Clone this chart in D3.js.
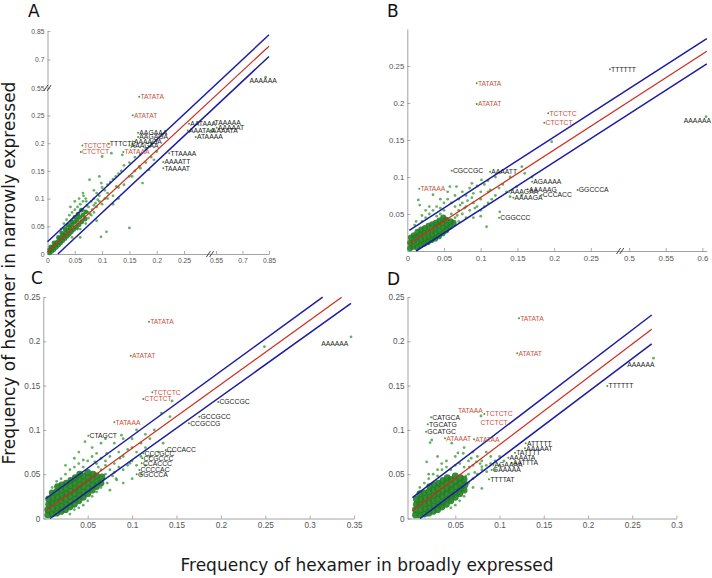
<!DOCTYPE html>
<html><head><meta charset="utf-8">
<script src="https://cdn.jsdelivr.net/npm/d3@7"></script>
<style>body{margin:0;background:#fff}svg{display:block}</style>
</head><body><svg id="c" width="712" height="578"></svg>
<script>
// ---------- DATA ----------
const xTicksA = [0,0.05,0.1,0.15,0.2,0.25,0.55,0.7,0.85];
const xTickLabelsA = ['0','0.05','0.1','0.15','0.2','0.25','0.55','0.7','0.85'];
const yTicksA = [0,0.05,0.1,0.15,0.2,0.25,0.55,0.7,0.85];
const yTickLabelsA = ['0','0.05','0.1','0.15','0.2','0.25','0.55','0.7','0.85'];
const xTicksB = [0,0.05,0.1,0.15,0.2,0.25,0.5,0.55,0.6];
const xTickLabelsB = ['0','0.05','0.1','0.15','0.2','0.25','0.5','0.55','0.6'];
const yTicksB = [0.05,0.1,0.15,0.2,0.25];
const yTickLabelsB = ['0.05','0.1','0.15','0.2','0.25'];
const xTicksC = [0.05,0.1,0.15,0.2,0.25,0.3,0.35];
const xTickLabelsC = ['0.05','0.1','0.15','0.2','0.25','0.3','0.35'];
const yTicksC = [0,0.05,0.1,0.15,0.2,0.25];
const yTickLabelsC = ['0','0.05','0.1','0.15','0.2','0.25'];
const xTicksD = [0.05,0.1,0.15,0.2,0.25,0.3];
const xTickLabelsD = ['0.05','0.1','0.15','0.2','0.25','0.3'];
const yTicksD = [0,0.05,0.1,0.15,0.2,0.25];
const yTickLabelsD = ['0','0.05','0.1','0.15','0.2','0.25'];

// fit / bound lines: [x0,y0,x1,y1,kind]
const linesA = [[0,0.022,0.85,0.83,'b'],[0.019,0,0.85,0.716,'b'],[0,0.004,0.85,0.77,'r']];
const linesB = [[0.0027,0.028,0.606,0.287,'b'],[0.012,0,0.606,0.253,'b'],[0.0027,0.010,0.606,0.270,'r']];
const linesC = [[0.0027,0.0223,0.3146,0.2498,'b'],[0.0075,0,0.3465,0.2427,'b'],[0.0027,0.0089,0.336,0.2498,'r']];
const linesD = [[0.0015,0.0235,0.272,0.2297,'b'],[0.0102,0,0.272,0.197,'b'],[0.0015,0.0088,0.272,0.2135,'r']];

// dense core of hexamers
const coreA = [[0.004,0.002],[0.004,0.008],[0.008,0.005],[0.009,0.012],[0.012,0.008],[0.013,0.016],[0.016,0.012],[0.017,0.021],[0.02,0.016],[0.021,0.025],[0.024,0.02],[0.025,0.03],[0.028,0.024],[0.029,0.034],[0.032,0.028],[0.033,0.038],[0.036,0.032],[0.037,0.043],[0.04,0.036],[0.041,0.047],[0.044,0.04],[0.045,0.052],[0.048,0.044],[0.05,0.057],[0.053,0.048],[0.054,0.061],[0.058,0.053],[0.059,0.066],[0.063,0.058],[0.065,0.07],[0.069,0.063],[0.07,0.076],[0.02,0.03],[0.026,0.038],[0.032,0.045],[0.038,0.052],[0.044,0.058],[0.05,0.066],[0.056,0.072],[0.062,0.079],[0.012,0.02],[0.006,0.013]];
const scatterA = [[0.03,0.055],[0.035,0.062],[0.04,0.07],[0.045,0.075],[0.05,0.08],[0.055,0.085],[0.06,0.09],[0.065,0.095],[0.07,0.1],[0.042,0.085],[0.05,0.095],[0.058,0.1],[0.066,0.105],[0.075,0.085],[0.08,0.095],[0.085,0.1],[0.09,0.11],[0.095,0.105],[0.1,0.12],[0.105,0.115],[0.11,0.125],[0.115,0.13],[0.12,0.135],[0.125,0.14],[0.13,0.145],[0.135,0.15],[0.14,0.16],[0.15,0.165],[0.16,0.175],[0.17,0.18],[0.18,0.19],[0.19,0.2],[0.2,0.205],[0.21,0.215],[0.06,0.045],[0.07,0.055],[0.075,0.065],[0.08,0.07],[0.085,0.075],[0.09,0.085],[0.1,0.09],[0.11,0.1],[0.12,0.105],[0.13,0.12],[0.14,0.125],[0.15,0.14],[0.16,0.15],[0.17,0.155],[0.18,0.165],[0.19,0.175],[0.2,0.185],[0.15,0.047],[0.108,0.04],[0.098,0.031],[0.077,0.134],[0.0985,0.128],[0.071,0.095],[0.126,0.122],[0.155,0.14],[0.168,0.158],[0.186,0.152],[0.174,0.128],[0.195,0.17],[0.1,0.176],[0.117,0.182],[0.137,0.179],[0.09,0.06],[0.12,0.09],[0.085,0.115],[0.095,0.14],[0.065,0.11],[0.055,0.045],[0.045,0.03],[0.13,0.1],[0.06,0.03],[0.831,0.607],[0.075,0.075],[0.085,0.088],[0.095,0.095],[0.105,0.1],[0.11,0.11],[0.025,0.045],[0.035,0.05],[0.045,0.062],[0.055,0.068],[0.065,0.08],[0.072,0.088],[0.078,0.072],[0.082,0.08],[0.088,0.092],[0.092,0.098]];

const coreB = [[0.004,0.004],[0.004,0.011],[0.005,0.018],[0.008,0.006],[0.009,0.013],[0.009,0.021],[0.013,0.005],[0.014,0.012],[0.013,0.019],[0.014,0.026],[0.018,0.008],[0.019,0.015],[0.018,0.022],[0.019,0.029],[0.023,0.01],[0.024,0.017],[0.023,0.024],[0.024,0.031],[0.028,0.012],[0.029,0.019],[0.028,0.026],[0.029,0.034],[0.033,0.015],[0.034,0.021],[0.033,0.028],[0.034,0.036],[0.038,0.017],[0.039,0.024],[0.038,0.031],[0.039,0.038],[0.043,0.02],[0.044,0.027],[0.043,0.034],[0.044,0.041],[0.048,0.024],[0.049,0.031],[0.048,0.038],[0.049,0.045],[0.053,0.028],[0.054,0.035],[0.053,0.042],[0.058,0.033],[0.059,0.04],[0.063,0.038]];
const scatterB = [[0.015,0.069],[0.017,0.062],[0.035,0.076],[0.058,0.087],[0.067,0.087],[0.088,0.0915],[0.101,0.096],[0.113,0.0824],[0.126,0.053],[0.108,0.0328],[0.14,0.0734],[0.149,0.0869],[0.156,0.0757],[0.1967,0.1477],[0.156,0.114],[0.01,0.035],[0.02,0.04],[0.025,0.045],[0.03,0.05],[0.035,0.055],[0.04,0.06],[0.045,0.058],[0.05,0.065],[0.055,0.07],[0.06,0.065],[0.065,0.075],[0.07,0.07],[0.075,0.08],[0.08,0.075],[0.085,0.085],[0.09,0.078],[0.095,0.088],[0.1,0.08],[0.105,0.09],[0.11,0.095],[0.12,0.1],[0.13,0.09],[0.06,0.05],[0.065,0.045],[0.07,0.055],[0.075,0.05],[0.08,0.06],[0.085,0.055],[0.09,0.065],[0.095,0.06],[0.1,0.07],[0.105,0.06],[0.11,0.065],[0.115,0.07],[0.12,0.075],[0.07,0.04],[0.08,0.045],[0.09,0.045],[0.1,0.055],[0.05,0.055],[0.045,0.05],[0.04,0.047],[0.02,0.048],[0.03,0.06],[0.012,0.04],[0.025,0.055],[0.065,0.06],[0.075,0.065],[0.1,0.047],[0.11,0.08],[0.125,0.085],[0.135,0.08],[0.14,0.1],[0.16,0.105],[0.17,0.1],[0.045,0.07],[0.055,0.08],[0.605,0.1815],[0.068,0.048],[0.072,0.062],[0.078,0.058],[0.082,0.068],[0.088,0.072],[0.092,0.058]];

const coreC = [[0.005,0.004],[0.005,0.01],[0.006,0.016],[0.006,0.022],[0.01,0.005],[0.011,0.011],[0.01,0.017],[0.011,0.023],[0.01,0.029],[0.015,0.006],[0.016,0.012],[0.015,0.018],[0.016,0.024],[0.015,0.03],[0.016,0.036],[0.02,0.008],[0.021,0.014],[0.02,0.02],[0.021,0.026],[0.02,0.032],[0.021,0.038],[0.025,0.01],[0.026,0.016],[0.025,0.022],[0.026,0.028],[0.025,0.034],[0.026,0.04],[0.03,0.013],[0.031,0.019],[0.03,0.025],[0.031,0.031],[0.03,0.037],[0.031,0.043],[0.035,0.016],[0.036,0.022],[0.035,0.028],[0.036,0.034],[0.035,0.04],[0.036,0.046],[0.04,0.02],[0.041,0.026],[0.04,0.032],[0.041,0.038],[0.04,0.044],[0.041,0.05],[0.045,0.024],[0.046,0.03],[0.045,0.036],[0.046,0.042],[0.045,0.048],[0.05,0.028],[0.051,0.034],[0.05,0.04],[0.051,0.046],[0.05,0.052],[0.055,0.032],[0.056,0.038],[0.055,0.044],[0.056,0.05],[0.06,0.036],[0.061,0.042],[0.06,0.048],[0.065,0.04],[0.066,0.047]];
const scatterC = [[0.047,0.0867],[0.0714,0.0736],[0.045,0.066],[0.0864,0.068],[0.0976,0.0623],[0.0827,0.0435],[0.075,0.032],[0.06,0.0736],[0.249,0.1939],[0.145,0.1326],[0.1427,0.1149],[0.133,0.119],[0.105,0.0999],[0.088,0.094],[0.3465,0.205],[0.02,0.045],[0.025,0.05],[0.03,0.055],[0.035,0.058],[0.04,0.062],[0.045,0.058],[0.05,0.065],[0.055,0.07],[0.06,0.062],[0.065,0.068],[0.07,0.065],[0.075,0.07],[0.08,0.062],[0.085,0.075],[0.09,0.07],[0.095,0.078],[0.1,0.08],[0.105,0.075],[0.11,0.085],[0.115,0.08],[0.12,0.09],[0.125,0.1],[0.07,0.05],[0.075,0.055],[0.08,0.052],[0.085,0.058],[0.09,0.055],[0.095,0.06],[0.1,0.065],[0.105,0.06],[0.11,0.07],[0.065,0.055],[0.07,0.06],[0.06,0.03],[0.065,0.035],[0.055,0.025],[0.05,0.02],[0.03,0.005],[0.035,0.01],[0.04,0.012],[0.045,0.015],[0.015,0.042],[0.01,0.035],[0.025,0.06],[0.035,0.068],[0.04,0.075],[0.055,0.08],[0.065,0.085],[0.07,0.09],[0.08,0.085],[0.09,0.09],[0.1,0.09],[0.115,0.095],[0.12,0.07],[0.13,0.075],[0.135,0.085],[0.11,0.05],[0.1,0.045],[0.09,0.04],[0.115,0.06],[0.068,0.045],[0.072,0.04],[0.078,0.048],[0.082,0.045],[0.062,0.058],[0.058,0.064]];

const coreD = [[0.005,0.004],[0.005,0.01],[0.006,0.016],[0.006,0.022],[0.01,0.004],[0.011,0.01],[0.01,0.016],[0.011,0.022],[0.01,0.028],[0.015,0.005],[0.016,0.011],[0.015,0.017],[0.016,0.023],[0.015,0.029],[0.02,0.006],[0.021,0.012],[0.02,0.018],[0.021,0.024],[0.02,0.03],[0.021,0.036],[0.025,0.008],[0.026,0.014],[0.025,0.02],[0.026,0.026],[0.025,0.032],[0.026,0.038],[0.03,0.01],[0.031,0.016],[0.03,0.022],[0.031,0.028],[0.03,0.034],[0.031,0.04],[0.035,0.013],[0.036,0.019],[0.035,0.025],[0.036,0.031],[0.035,0.037],[0.036,0.043],[0.04,0.016],[0.041,0.022],[0.04,0.028],[0.041,0.034],[0.04,0.04],[0.041,0.046],[0.045,0.02],[0.046,0.026],[0.045,0.032],[0.046,0.038],[0.045,0.044],[0.05,0.024],[0.051,0.03],[0.05,0.036],[0.051,0.042],[0.05,0.048],[0.055,0.028],[0.056,0.034],[0.055,0.04],[0.056,0.046],[0.06,0.032],[0.061,0.038],[0.06,0.044]];
const scatterD = [[0.0234,0.0886],[0.0215,0.0856],[0.046,0.085],[0.0177,0.064],[0.0347,0.062],[0.059,0.0736],[0.08,0.0585],[0.0855,0.0528],[0.074,0.064],[0.053,0.074],[0.08,0.034],[0.079,0.1157],[0.274,0.181],[0.01,0.035],[0.015,0.04],[0.02,0.045],[0.025,0.05],[0.03,0.048],[0.035,0.055],[0.04,0.058],[0.045,0.055],[0.05,0.06],[0.055,0.062],[0.06,0.058],[0.065,0.065],[0.07,0.06],[0.075,0.07],[0.08,0.065],[0.085,0.075],[0.09,0.07],[0.065,0.05],[0.07,0.045],[0.075,0.05],[0.08,0.055],[0.085,0.06],[0.09,0.062],[0.095,0.065],[0.1,0.07],[0.065,0.04],[0.07,0.035],[0.06,0.025],[0.055,0.02],[0.05,0.015],[0.045,0.012],[0.03,0.055],[0.02,0.05],[0.04,0.065],[0.05,0.07],[0.03,0.07],[0.06,0.08],[0.07,0.075],[0.1,0.06],[0.095,0.055],[0.105,0.065],[0.066,0.058],[0.072,0.052],[0.078,0.062],[0.062,0.048],[0.068,0.068]];

// labelled hexamers: [name, x, y, colour key, marker?]
const labelsA = [['TATATA',0.168,0.455,'r'],['ATATAT',0.156,0.252,'r'],['TCTCTC',0.064,0.196,'r'],['CTCTCT',0.061,0.184,'r'],['TTTCTC',0.112,0.199,'k'],['AAGAAA',0.166,0.219,'k'],['AAGAGA',0.166,0.211,'k'],['AAAAGA',0.156,0.203,'k'],['AAAGAA',0.15,0.196,'k'],['TATAAA',0.139,0.184,'r'],['AATAAA',0.297,0.235,'k'],['TAAAAA',0.525,0.237,'k'],['AAAAAT',0.554,0.228,'k'],['AAATAA',0.285,0.223,'k'],['AAAATA',0.50,0.223,'k'],['ATAAAA',0.36,0.211,'k'],['TTAAAA',0.223,0.182,'k'],['AAAATT',0.212,0.166,'k'],['TAAAAT',0.212,0.155,'k'],['AAAAAA',0.733,0.5875,'k',0]];
const labelsB = [['TTTTTT',0.276,0.2455,'k'],['TATATA',0.0945,0.2266,'r'],['ATATAT',0.0945,0.1986,'r'],['TCTCTC',0.192,0.186,'r'],['CTCTCT',0.1866,0.1734,'r'],['AAAAAA',0.573,0.176,'k',0],['CGCCGC',0.0605,0.1085,'k'],['AAAATT',0.1127,0.107,'k'],['TATAAA',0.0163,0.0842,'r'],['AGAAAA',0.170,0.0937,'k'],['AAAAAG',0.164,0.0834,'k'],['AAAGAA',0.1386,0.080,'k'],['AAAAGA',0.1444,0.072,'k'],['CCCACC',0.183,0.0757,'k'],['GGCCCA',0.232,0.0824,'k'],['CGGCCC',0.125,0.045,'k']];
const labelsC = [['TATATA',0.119,0.222,'r'],['ATATAT',0.0984,0.1838,'r'],['TCTCTC',0.1228,0.1424,'r'],['CTCTCT',0.1126,0.1349,'r'],['TATAAA',0.080,0.1086,'r'],['CTAGCT',0.0507,0.0935,'k'],['AAAAAA',0.3116,0.1973,'k',0],['CGCCGC',0.197,0.1315,'k'],['GCCGCC',0.1757,0.1149,'k'],['CCGCCG',0.164,0.1074,'k'],['CCCACC',0.1378,0.0773,'k'],['CCCGCC',0.1126,0.0736,'k'],['CCGCCC',0.1115,0.068,'k'],['CCACCC',0.1108,0.0623,'k'],['CCCCAC',0.1081,0.0547,'k'],['GGCCCA',0.1052,0.0499,'k']];
const labelsD = [['TATATA',0.122,0.226,'r'],['ATATAT',0.120,0.1865,'r'],['AAAAAA',0.243,0.174,'k',0],['TTTTTT',0.2218,0.1495,'k'],['TATAAA',0.0516,0.1213,'r',0],['TCTCTC',0.0828,0.118,'r'],['CTCTCT',0.0772,0.1081,'r',0],['CATGCA',0.0226,0.1142,'k'],['TGCATG',0.0189,0.1063,'k'],['GCATGC',0.017,0.098,'k'],['ATAAAT',0.0384,0.0905,'r'],['ATATAA',0.0712,0.0894,'r'],['ATTTTT',0.1296,0.0849,'k'],['AAAAAT',0.1288,0.0792,'k'],['TATTTT',0.1175,0.0743,'k'],['AAAATA',0.11,0.0686,'k'],['AATTTA',0.1138,0.063,'k'],['AGAAAA',0.093,0.0604,'k'],['GAAAAA',0.0911,0.0547,'k'],['TTTTAT',0.0881,0.0442,'k']];

// ---------- LAYOUT ----------
const panels = [
 {letter:'A', lp:[28,17], xd:[0,0.25,0.55,0.85], xr:[47.5,184,216,269], yd:[0,0.25,0.55,0.85], yr:[254,115.5,88,31],
  xt:xTicksA, xl:xTickLabelsA, yt:yTicksA, yl:yTickLabelsA, tf:6.8, cr:2.4, lines:linesA, core:coreA, pts:scatterA, labels:labelsA, bx:0.494, by:0.55},
 {letter:'B', lp:[387,17], xd:[0,0.29,0.49,0.606], xr:[407.3,620.2,621.7,706.8], yd:[0,0.3], yr:[251,29],
  xt:xTicksB, xl:xTickLabelsB, yt:yTicksB, yl:yTickLabelsB, tf:7.8, cr:3.1, lines:linesB, core:coreB, pts:scatterB, labels:labelsB, bx:0.29},
 {letter:'C', lp:[31,284], xd:[0,0.35], xr:[43.3,354.1], yd:[0,0.25], yr:[518.5,297],
  xt:xTicksC, xl:xTickLabelsC, yt:yTicksC, yl:yTickLabelsC, tf:8.2, cr:3.4, lines:linesC, core:coreC, pts:scatterC, labels:labelsC},
 {letter:'D', lp:[387,285], xd:[-0.004,0.3], xr:[407.5,676.5], yd:[0,0.25], yr:[518.5,297],
  xt:xTicksD, xl:xTickLabelsD, yt:yTicksD, yl:yTickLabelsD, tf:8.2, cr:3.4, lines:linesD, core:coreD, pts:scatterD, labels:labelsD}
];

const svg = d3.select('#c');
const colors = {b:'#1c1ca6', r:'#d42a1c', k:'#1a1a1a', lr:'#c8523a'};

panels.forEach(p => {
  const x = d3.scaleLinear().domain(p.xd).range(p.xr);
  const y = d3.scaleLinear().domain(p.yd).range(p.yr);
  const g = svg.append('g');
  const x0 = p.xr[0], y0 = p.yr[0];

  // axes
  const ax = d3.axisBottom(x).tickValues(p.xt).tickFormat((d,i)=>p.xl[i]).tickSizeInner(-3).tickSizeOuter(0).tickPadding(4);
  const ay = d3.axisLeft(y).tickValues(p.yt).tickFormat((d,i)=>p.yl[i]).tickSizeInner(-3).tickSizeOuter(0).tickPadding(3);
  const gx = g.append('g').attr('transform',`translate(0,${y0})`).call(ax);
  const gy = g.append('g').attr('transform',`translate(${x0},0)`).call(ay);
  [gx,gy].forEach(a=>{
    a.select('.domain').attr('stroke','#8a8a8a').attr('stroke-width',0.8);
    a.selectAll('.tick line').attr('stroke','#8a8a8a').attr('stroke-width',0.7);
    a.selectAll('.tick text').attr('fill','#555').attr('font-family','Liberation Sans, Arial, sans-serif').attr('font-size',p.tf);
  });

  // break marks
  const brk = (cx, cy) => {
    [-1.6,1.6].forEach(o=>g.append('line').attr('x1',cx+o-2).attr('y1',cy+3).attr('x2',cx+o+2).attr('y2',cy-3)
      .attr('stroke','#333').attr('stroke-width',0.9));
  };
  if (p.bx !== undefined) brk(x(p.bx), y0);
  if (p.by !== undefined) brk(x0, y(p.by));

  // points
  g.append('g').selectAll('circle').data(p.pts).join('circle')
    .attr('cx',d=>x(d[0])).attr('cy',d=>y(d[1])).attr('r',1.4)
    .attr('fill','#3f9f3f').attr('fill-opacity',0.8);
  g.append('g').selectAll('circle').data(p.core).join('circle')
    .attr('cx',d=>x(d[0])).attr('cy',d=>y(d[1])).attr('r',p.cr)
    .attr('fill','#218021').attr('fill-opacity',0.9);

  // lines
  g.append('g').selectAll('line').data(p.lines).join('line')
    .attr('x1',d=>x(d[0])).attr('y1',d=>y(d[1])).attr('x2',d=>x(d[2])).attr('y2',d=>y(d[3]))
    .attr('stroke',d=>colors[d[4]]).attr('stroke-width',d=>d[4]==='b'?1.5:1.2);

  // labels
  const lg = g.append('g');
  p.labels.forEach(d=>{
    if (d[4] !== 0) lg.append('circle').attr('cx',x(d[1])).attr('cy',y(d[2])).attr('r',1).attr('fill','#3f9f3f');
    lg.append('text').attr('x',x(d[1])+1.2).attr('y',y(d[2])).attr('dy','0.35em')
      .attr('font-family','Liberation Sans, Arial, sans-serif').attr('font-size',6.8)
      .attr('fill',d[3]==='r'?colors.lr:colors.k).text(d[0]);
  });

  // panel letter
  svg.append('text').attr('x',p.lp[0]).attr('y',p.lp[1]).attr('font-family','DejaVu Sans, sans-serif')
    .attr('font-size',17).attr('fill','#111').text(p.letter);
});

// axis titles
svg.append('text').attr('x',367).attr('y',571).attr('text-anchor','middle')
  .attr('font-family','DejaVu Sans, sans-serif').attr('font-size',17).attr('fill','#1a1a1a')
  .text('Frequency of hexamer in broadly expressed');
svg.append('text').attr('transform','translate(15,273) rotate(-90)').attr('text-anchor','middle')
  .attr('font-family','DejaVu Sans, sans-serif').attr('font-size',17).attr('fill','#1a1a1a')
  .text('Frequency of hexamer in narrowly expressed');
</script></body></html>
